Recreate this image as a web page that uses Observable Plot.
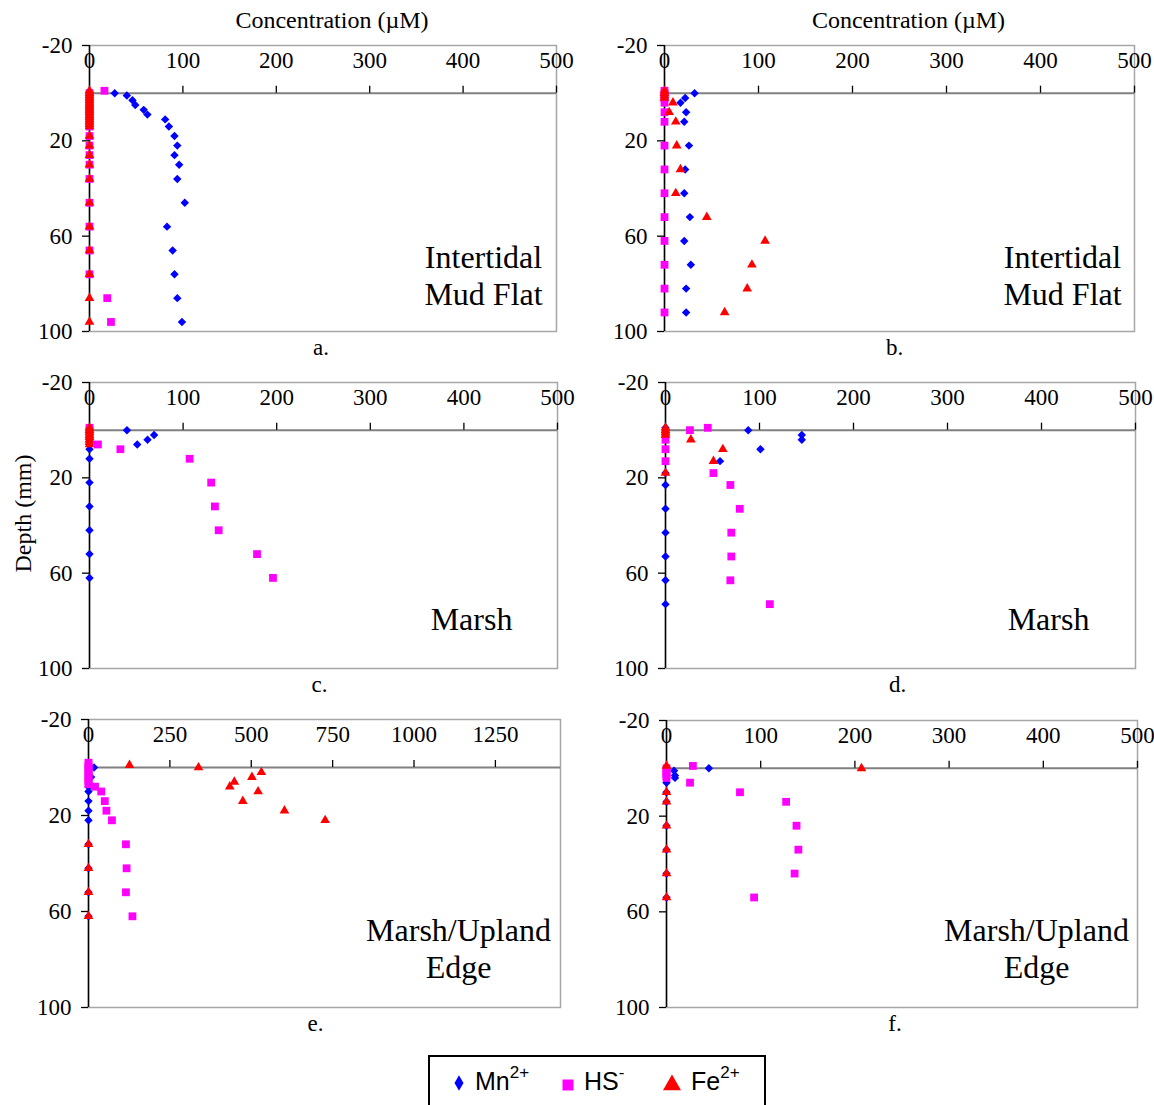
<!DOCTYPE html>
<html>
<head>
<meta charset="utf-8">
<script src="https://cdn.jsdelivr.net/npm/d3@7"></script>
<script src="https://cdn.jsdelivr.net/npm/@observablehq/plot@0.6"></script>
<style>
  html, body { margin: 0; padding: 0; background: #fff; }
  #wrap { position: relative; width: 1154px; height: 1105px; overflow: hidden; background: #fff; }
  .panel { position: absolute; }
  .panel svg { overflow: visible; }
  #legend { position: absolute; left: 428px; top: 1055px; }
</style>
</head>
<body>
<div id="wrap"></div>
<script>
// ---------- tick labels, names ----------
const depthTicks = [-20, 20, 60, 100];
const concTicks = [0, 100, 200, 300, 400, 500];
const concTicksWide = [0, 250, 500, 750, 1000, 1250];
const panelLetters = ["a.", "b.", "c.", "d.", "e.", "f."];
const siteNames = ["Intertidal\nMud Flat", "Intertidal\nMud Flat", "Marsh", "Marsh", "Marsh/Upland\nEdge", "Marsh/Upland\nEdge"];
const axisTitleX = "Concentration (µM)";
const axisTitleY = "Depth (mm)";

// ---------- panel a: Intertidal Mud Flat ----------
const aMnDepth = [0, 1, 3, 5, 7, 9, 11, 14, 18, 22, 26, 30, 36, 46, 56, 66, 76, 86, 96];
const aMnConc  = [27, 40, 46, 49, 58, 62, 81, 85, 91, 94, 91, 96, 94, 102, 83, 89, 91, 94, 99];
const aHsDepth = [-1, 0, 1, 2, 3, 4, 5, 6, 7, 8, 9, 10, 11, 12, 13, 14, 18, 22, 26, 30, 36, 46, 56, 66, 76, 86, 96];
const aHsConc  = [16, 0, 0, 0, 0, 0, 0, 0, 0, 0, 0, 0, 0, 0, 0, 0, 0, 0, 0, 0, 0, 0, 0, 0, 0, 19, 23];
const aFeDepth = [-1, 0, 1, 2, 3, 4, 5, 6, 7, 8, 9, 10, 11, 12, 13, 14, 18, 22, 26, 30, 36, 46, 56, 66, 76, 86, 96];
const aFeConc  = [0, 0, 0, 0, 0, 0, 0, 0, 0, 0, 0, 0, 0, 0, 0, 0, 0, 0, 0, 0, 0, 0, 0, 0, 0, 0, 0];

// ---------- panel b: Intertidal Mud Flat ----------
const bMnDepth = [0, 2, 4, 8, 12, 22, 32, 42, 52, 62, 72, 82, 92];
const bMnConc  = [32, 22, 17, 23, 21, 26, 22, 21, 27, 21, 28, 23, 23];
const bHsDepth = [-1, 0, 1, 2, 4, 8, 12, 22, 32, 42, 52, 62, 72, 82, 92];
const bHsConc  = [0, 0, 0, 0, 0, 0, 0, 0, 0, 0, 0, 0, 0, 0, 0];
const bFeDepth = [-1, 0, 1, 2, 4, 8, 12, 22, 32, 42, 52, 62, 72, 82, 92];
const bFeConc  = [0, 0, 0, 0, 9, 5, 12, 13, 17, 12, 45, 107, 93, 88, 64];

// ---------- panel c: Marsh ----------
const cMnDepth = [0, 2, 4, 6, 8, 12, 22, 32, 42, 52, 62];
const cMnConc  = [40, 69, 62, 51, 0, 0, 0, 0, 0, 0, 0];
const cHsDepth = [-1, 0, 2, 4, 6, 8, 12, 22, 32, 42, 52, 62];
const cHsConc  = [0, 0, 0, 0, 9, 33, 107, 130, 134, 138, 179, 196];
const cFeDepth = [-1, 0, 1, 2, 3, 4, 5, 6];
const cFeConc  = [0, 0, 0, 0, 0, 0, 0, 0];

// ---------- panel d: Marsh ----------
const dMnDepth = [-1, 0, 2, 4, 8, 13, 18, 23, 33, 43, 53, 63, 73];
const dMnConc  = [0, 88, 145, 145, 101, 58, 0, 0, 0, 0, 0, 0, 0];
const dHsDepth = [-1, 0, 1, 4, 8, 13, 18, 23, 33, 43, 53, 63, 73];
const dHsConc  = [45, 26, 0, 0, 0, 0, 51, 69, 79, 70, 70, 69, 111];
const dFeDepth = [-1, 0, 1, 2, 4, 8, 13, 18];
const dFeConc  = [0, 0, 0, 0, 27, 61, 51, 0];

// ---------- panel e: Marsh/Upland Edge ----------
const eMnDepth = [0, 4, 8, 10, 14, 18, 22, 32, 42, 52, 62];
const eMnConc  = [17, 8, 0, 0, 0, 0, 0, 0, 0, 0, 0];
const eHsDepth = [-2, -1, 0, 1, 2, 3, 4, 5, 6, 7, 8, 10, 14, 18, 22, 32, 42, 52, 62];
const eHsConc  = [0, 0, 0, 0, 0, 0, 0, 0, 0, 0, 20, 39, 50, 55, 72, 115, 117, 115, 135];
const eFeDepth = [-1, 0, 2, 4, 6, 8, 10, 14, 18, 22, 32, 42, 52, 62];
const eFeConc  = [126, 338, 531, 502, 448, 434, 521, 474, 602, 727, 0, 0, 0, 0];

// ---------- panel f: Marsh/Upland Edge ----------
const fMnDepth = [0, 1, 3, 4, 6, 10, 14, 24, 34, 44, 54];
const fMnConc  = [45, 8, 9, 9, 0, 0, 0, 0, 0, 0, 0];
const fHsDepth = [-1, 0, 1, 2, 3, 4, 6, 10, 14, 24, 34, 44, 54];
const fHsConc  = [28, 0, 0, 0, 0, 0, 25, 78, 127, 138, 140, 136, 93];
const fFeDepth = [-1, 0, 10, 14, 24, 34, 44, 54];
const fFeConc  = [0, 207, 0, 0, 0, 0, 0, 0];

// ---------- build tables ----------
const zip = (depth, conc) => depth.map((d, i) => ({depth: d, conc: conc[i]}));
const panelData = [
  {mn: zip(aMnDepth, aMnConc), hs: zip(aHsDepth, aHsConc), fe: zip(aFeDepth, aFeConc), ticks: concTicks, xMax: 500},
  {mn: zip(bMnDepth, bMnConc), hs: zip(bHsDepth, bHsConc), fe: zip(bFeDepth, bFeConc), ticks: concTicks, xMax: 500},
  {mn: zip(cMnDepth, cMnConc), hs: zip(cHsDepth, cHsConc), fe: zip(cFeDepth, cFeConc), ticks: concTicks, xMax: 500},
  {mn: zip(dMnDepth, dMnConc), hs: zip(dHsDepth, dHsConc), fe: zip(dFeDepth, dFeConc), ticks: concTicks, xMax: 500},
  {mn: zip(eMnDepth, eMnConc), hs: zip(eHsDepth, eHsConc), fe: zip(eFeDepth, eFeConc), ticks: concTicksWide, xMax: 1450},
  {mn: zip(fMnDepth, fMnConc), hs: zip(fHsDepth, fHsConc), fe: zip(fFeDepth, fFeConc), ticks: concTicks, xMax: 500}
];

// ---------- layout (pixels) ----------
const layout = [
  {left: 0,   top: 0,   w: 577, h: 365, fl: 89,  fr: 556,  ft: 45,  fb: 331, letterDx: -2, siteDx: -73, siteDy: -57, title: true},
  {left: 577, top: 0,   w: 577, h: 365, fl: 664, fr: 1134, ft: 45,  fb: 331, letterDx: -5, siteDx: -72, siteDy: -57, title: true},
  {left: 0,   top: 365, w: 577, h: 340, fl: 89,  fr: 557,  ft: 382, fb: 668, letterDx: -4, siteDx: -86, siteDy: -50, ylabel: true},
  {left: 577, top: 365, w: 577, h: 340, fl: 665, fr: 1135, ft: 382, fb: 668, letterDx: -3, siteDx: -87, siteDy: -50},
  {left: 0,   top: 705, w: 577, h: 340, fl: 88,  fr: 560,  ft: 719, fb: 1007, letterDx: -9, siteDx: -102, siteDy: -60},
  {left: 577, top: 705, w: 577, h: 340, fl: 666, fr: 1137, ft: 720, fb: 1007, letterDx: -7, siteDx: -101, siteDy: -60}
];

const serif = "'Liberation Serif', 'Times New Roman', Times, serif";
const wrap = document.getElementById("wrap");

panelData.forEach((pd, i) => {
  const L = layout[i];
  const marks = [
    Plot.frame({stroke: "#a6a6a6", strokeWidth: 1.5}),
    Plot.ruleY([0], {stroke: "#808080", strokeWidth: 2}),
    Plot.ruleX(pd.ticks.slice(1), {x: d => d, y1: 0, y2: 0, insetTop: -7, stroke: "#000", strokeWidth: 1.3}),
    Plot.ruleX([0], {stroke: "#000", strokeWidth: 1.5}),
    Plot.axisY(depthTicks, {anchor: "left", tickSize: 7, tickPadding: 10, tickFormat: d => String(d), label: null, fontSize: 23, strokeWidth: 1.3}),
    Plot.text(pd.ticks, {x: d => d, text: d => String(d), frameAnchor: "top", lineAnchor: "middle", dy: 15, fontSize: 23}),
    Plot.dot(pd.mn, {x: "conc", y: "depth", symbol: "diamond2", r: 3.8, fill: "#0000FF", stroke: null}),
    Plot.dot(pd.hs, {x: "conc", y: "depth", symbol: "square", r: 4.4, fill: "#FF00FF", stroke: null}),
    Plot.dot(pd.fe, {x: "conc", y: "depth", symbol: "triangle", r: 3.6, fill: "#FF0000", stroke: null}),
    Plot.text([siteNames[i]], {text: d => d, frameAnchor: "bottom-right", textAnchor: "middle", lineAnchor: "middle", lineHeight: 1.156, dx: L.siteDx, dy: L.siteDy, fontSize: 32}),
    Plot.text([panelLetters[i]], {text: d => d, frameAnchor: "bottom", lineAnchor: "middle", textAnchor: "middle", dx: L.letterDx, dy: 16.5, fontSize: 23})
  ];
  if (L.title) {
    marks.push(Plot.text([axisTitleX], {text: d => d, frameAnchor: "top", lineAnchor: "middle", textAnchor: "middle", dx: 9, dy: -25, fontSize: 24}));
  }
  if (L.ylabel) {
    marks.push(Plot.text([axisTitleY], {text: d => d, frameAnchor: "left", lineAnchor: "middle", textAnchor: "middle", rotate: -90, dx: -66, dy: -12, fontSize: 24}));
  }
  const chart = Plot.plot({
    width: L.w,
    height: L.h,
    marginLeft: L.fl - L.left,
    marginRight: L.left + L.w - L.fr,
    marginTop: L.ft - L.top,
    marginBottom: L.top + L.h - L.fb,
    x: {domain: [0, pd.xMax], axis: null},
    y: {domain: [-20, 100], reverse: true},
    style: {fontFamily: serif, fontSize: "23px", background: "transparent", overflow: "visible", color: "#000"},
    marks
  });
  const div = document.createElement("div");
  div.className = "panel";
  div.style.left = L.left + "px";
  div.style.top = L.top + "px";
  div.appendChild(chart);
  wrap.appendChild(div);
});

// ---------- legend ----------
const legendItems = [
  {name: "Mn", sup: "2+", color: "#0000FF"},
  {name: "HS", sup: "-", color: "#FF00FF"},
  {name: "Fe", sup: "2+", color: "#FF0000"}
];
const lg = d3.select("#wrap").append("svg")
  .attr("id", "legend")
  .attr("width", 340).attr("height", 50)
  .style("font-family", "'Liberation Sans', Arial, sans-serif");
lg.append("rect").attr("x", 1).attr("y", 1).attr("width", 336).attr("height", 70)
  .attr("fill", "none").attr("stroke", "#000").attr("stroke-width", 2);
const symX = [31, 140, 244];
const txtX = [47, 156, 263];
const symPaths = [
  d3.symbol(d3.symbolDiamond, 70)(),
  d3.symbol(d3.symbolSquare, 121)(),
  d3.symbol(d3.symbolTriangle, 140)()
];
const symY = [28, 30, 30];
legendItems.forEach((it, i) => {
  lg.append("path").attr("d", symPaths[i]).attr("fill", it.color)
    .attr("transform", `translate(${symX[i]},${symY[i]})`);
  const t = lg.append("text").attr("x", txtX[i]).attr("y", 35).attr("font-size", 25).attr("fill", "#000");
  t.append("tspan").text(it.name);
  t.append("tspan").attr("dy", -12).attr("font-size", 17).text(it.sup);
});
</script>
</body>
</html>
